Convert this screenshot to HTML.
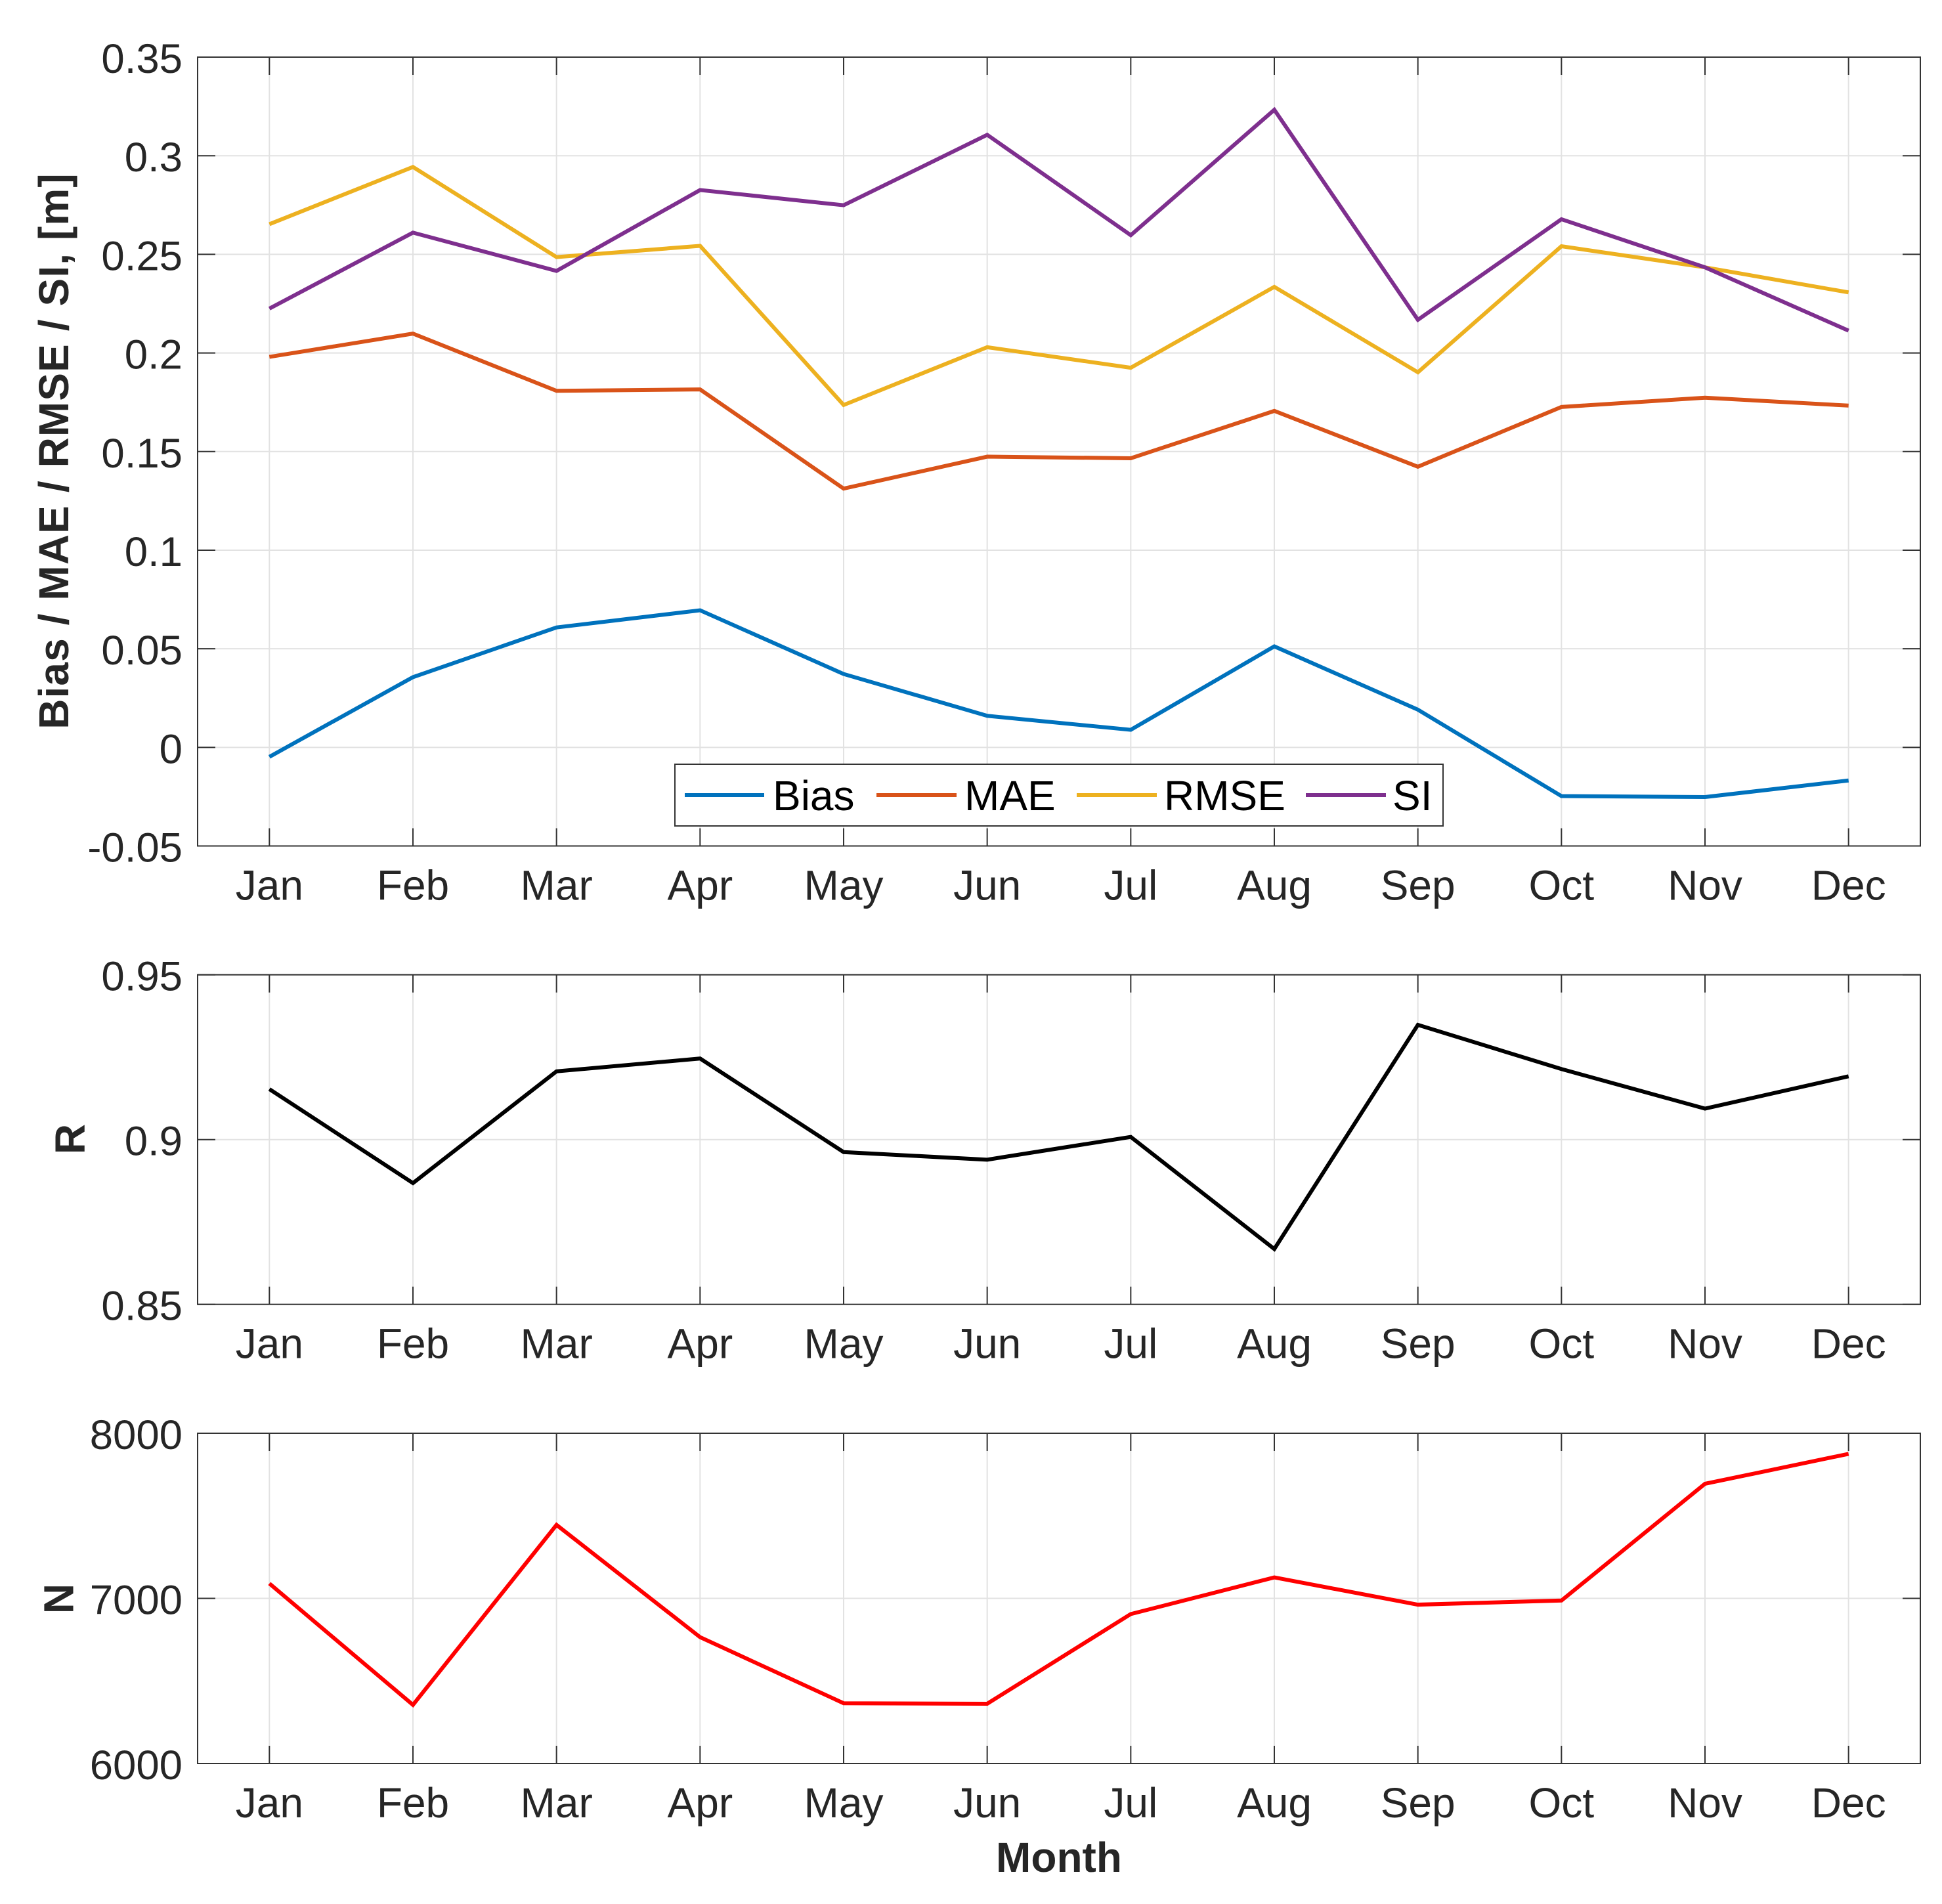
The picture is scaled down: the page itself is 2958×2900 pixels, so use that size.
<!DOCTYPE html>
<html>
<head>
<meta charset="utf-8">
<title>Monthly error statistics</title>
<style>
html,body{margin:0;padding:0;background:#fff;}
svg{display:block;}
text{font-family:"Liberation Sans",Arial,sans-serif;fill:#262626;}
</style>
</head>
<body>
<svg id="chart" xmlns="http://www.w3.org/2000/svg" width="2958" height="2900" viewBox="0 0 2958 2900">
<rect x="0" y="0" width="2958" height="2900" fill="#ffffff"/>
</svg>
<script>
const months = ['Jan','Feb','Mar','Apr','May','Jun','Jul','Aug','Sep','Oct','Nov','Dec'];

const biasValues = [-0.0048,0.0356,0.0608,0.0695,0.0372,0.016,0.0089,0.0512,0.0191,-0.0247,-0.0252,-0.0168];
const maeValues  = [0.198,0.2098,0.1808,0.1815,0.1312,0.1474,0.1466,0.1706,0.1423,0.1726,0.1773,0.1733];
const rmseValues = [0.2653,0.2943,0.2486,0.2543,0.1736,0.2029,0.1925,0.2335,0.1902,0.2541,0.2434,0.2307];
const siValues   = [0.2225,0.261,0.2416,0.2826,0.2749,0.3106,0.2597,0.3233,0.2168,0.2678,0.2434,0.2113];
const rValues    = [0.9153,0.8868,0.9207,0.9246,0.8962,0.8939,0.9008,0.8668,0.9348,0.9214,0.9094,0.9192];
const nValues    = [7090,6355,7445,6765,6365,6362,6905,7127,6962,6987,7694,7875];

const errorTickLabels = ['-0.05','0','0.05','0.1','0.15','0.2','0.25','0.3','0.35'];
const rTickLabels = ['0.85','0.9','0.95'];
const nTickLabels = ['6000','7000','8000'];

const svg = document.getElementById('chart');
const NS = 'http://www.w3.org/2000/svg';
const axisLeft = 301, axisRight = 2925, tickLen = 27;
const axisColor = '#333333', gridColor = '#e2e2e2';

function xScale(i) {
  return axisLeft + (axisRight - axisLeft) * (i + 0.5) / months.length;
}
function yScale(panel, v) {
  return panel.bottom - (v - panel.min) / (panel.max - panel.min) * (panel.bottom - panel.top);
}
function make(tag, attrs, parent) {
  const el = document.createElementNS(NS, tag);
  for (const k in attrs) el.setAttribute(k, attrs[k]);
  parent.appendChild(el);
  return el;
}
function drawLine(panel, values, color, name) {
  const pts = values.map((v, i) => xScale(i).toFixed(2) + ',' + yScale(panel, v).toFixed(2)).join(' ');
  const line = make('polyline', {points: pts, fill: 'none', stroke: color, 'stroke-width': 6, 'stroke-linejoin': 'miter', 'stroke-miterlimit': 10}, panel.group);
  
  
}

function drawAxes(panel, tickLabels, axisName) {
  const g = make('g', {}, svg);
  
  
  panel.group = g;
  const bg = make('rect', {x: axisLeft, y: panel.top, width: axisRight - axisLeft, height: panel.bottom - panel.top, fill: '#ffffff'}, g);
  
  

  months.forEach((m, i) => {
    const x = xScale(i);
    const grid = make('line', {x1: x, x2: x, y1: panel.top, y2: panel.bottom, stroke: gridColor, 'stroke-width': 2}, g);
    
    
  });
  tickLabels.forEach((t) => {
    const y = yScale(panel, parseFloat(t));
    const grid = make('line', {x1: axisLeft, x2: axisRight, y1: y, y2: y, stroke: gridColor, 'stroke-width': 2}, g);
    
    
  });
}

function drawFrame(panel, tickLabels, axisName) {
  const g = panel.group;
  months.forEach((m, i) => {
    const x = xScale(i);
    const t1 = make('line', {x1: x, x2: x, y1: panel.bottom, y2: panel.bottom - tickLen, stroke: axisColor, 'stroke-width': 2}, g);
    
    
    const t2 = make('line', {x1: x, x2: x, y1: panel.top, y2: panel.top + tickLen, stroke: axisColor, 'stroke-width': 2}, g);
    
    
    const lab = make('text', {x: x, y: panel.bottom + 82, 'text-anchor': 'middle', 'font-size': 64}, g);
    lab.textContent = m;
    
    
  });
  tickLabels.forEach((t) => {
    const y = yScale(panel, parseFloat(t));
    const t1 = make('line', {x1: axisLeft, x2: axisLeft + tickLen, y1: y, y2: y, stroke: axisColor, 'stroke-width': 2}, g);
    
    
    const t2 = make('line', {x1: axisRight, x2: axisRight - tickLen, y1: y, y2: y, stroke: axisColor, 'stroke-width': 2}, g);
    
    
    const lab = make('text', {x: 278, y: y + 24, 'text-anchor': 'end', 'font-size': 63.5}, g);
    lab.textContent = t;
    
    
  });
  const box = make('rect', {x: axisLeft, y: panel.top, width: axisRight - axisLeft, height: panel.bottom - panel.top, fill: 'none', stroke: axisColor, 'stroke-width': 2}, g);
  
  
}

function drawYTitle(label, x, y, name, spacing) {
  const t = make('text', {x: x, y: y, transform: 'rotate(-90 ' + x + ' ' + y + ')', 'text-anchor': 'middle', 'font-size': 64, 'font-weight': 'bold', 'letter-spacing': spacing}, svg);
  t.textContent = label;
  
  
}

const errorPanel = {top: 87, bottom: 1288.5, min: -0.05, max: 0.35};
const rPanel = {top: 1484.7, bottom: 1986.7, min: 0.85, max: 0.95};
const nPanel = {top: 2183, bottom: 2686, min: 6000, max: 8000};

drawAxes(errorPanel, errorTickLabels, 'error-axes');
drawLine(errorPanel, biasValues, '#0072BD', 'bias-line');
drawLine(errorPanel, maeValues, '#D95319', 'mae-line');
drawLine(errorPanel, rmseValues, '#EDB120', 'rmse-line');
drawLine(errorPanel, siValues, '#7E2F8E', 'si-line');
drawFrame(errorPanel, errorTickLabels, 'error-axes');

drawAxes(rPanel, rTickLabels, 'r-axes');
drawLine(rPanel, rValues, '#000000', 'r-line');
drawFrame(rPanel, rTickLabels, 'r-axes');

drawAxes(nPanel, nTickLabels, 'n-axes');
drawLine(nPanel, nValues, '#FF0000', 'n-line');
drawFrame(nPanel, nTickLabels, 'n-axes');

drawYTitle('Bias / MAE / RMSE / SI, [m]', 104, 687, 'error-y-axis-title', 1.1);
drawYTitle('R', 129, 1735, 'r-y-axis-title', 0);
drawYTitle('N', 111.5, 2435, 'n-y-axis-title', 0);
</script>
<svg xmlns="http://www.w3.org/2000/svg" width="2958" height="2900" viewBox="0 0 2958 2900" style="position:absolute;left:0;top:0;">
  <text x="1613" y="2851" text-anchor="middle" font-size="64" font-weight="bold">Month</text>
  <g>
    <rect x="1028" y="1164" width="1170" height="94" fill="#ffffff" stroke="#333333" stroke-width="2"/>
    <g>
      <line x1="1043" x2="1164" y1="1211" y2="1211" stroke="#0072BD" stroke-width="6"/>
      <text x="1177" y="1234" font-size="64" style="fill:#000">Bias</text>
    </g>
    <g>
      <line x1="1335" x2="1457" y1="1211" y2="1211" stroke="#D95319" stroke-width="6"/>
      <text x="1469" y="1234" font-size="64" style="fill:#000">MAE</text>
    </g>
    <g>
      <line x1="1640" x2="1762" y1="1211" y2="1211" stroke="#EDB120" stroke-width="6"/>
      <text x="1773" y="1234" font-size="64" style="fill:#000">RMSE</text>
    </g>
    <g>
      <line x1="1989" x2="2111" y1="1211" y2="1211" stroke="#7E2F8E" stroke-width="6"/>
      <text x="2121" y="1234" font-size="64" style="fill:#000">SI</text>
    </g>
  </g>
</svg>
</body>
</html>
